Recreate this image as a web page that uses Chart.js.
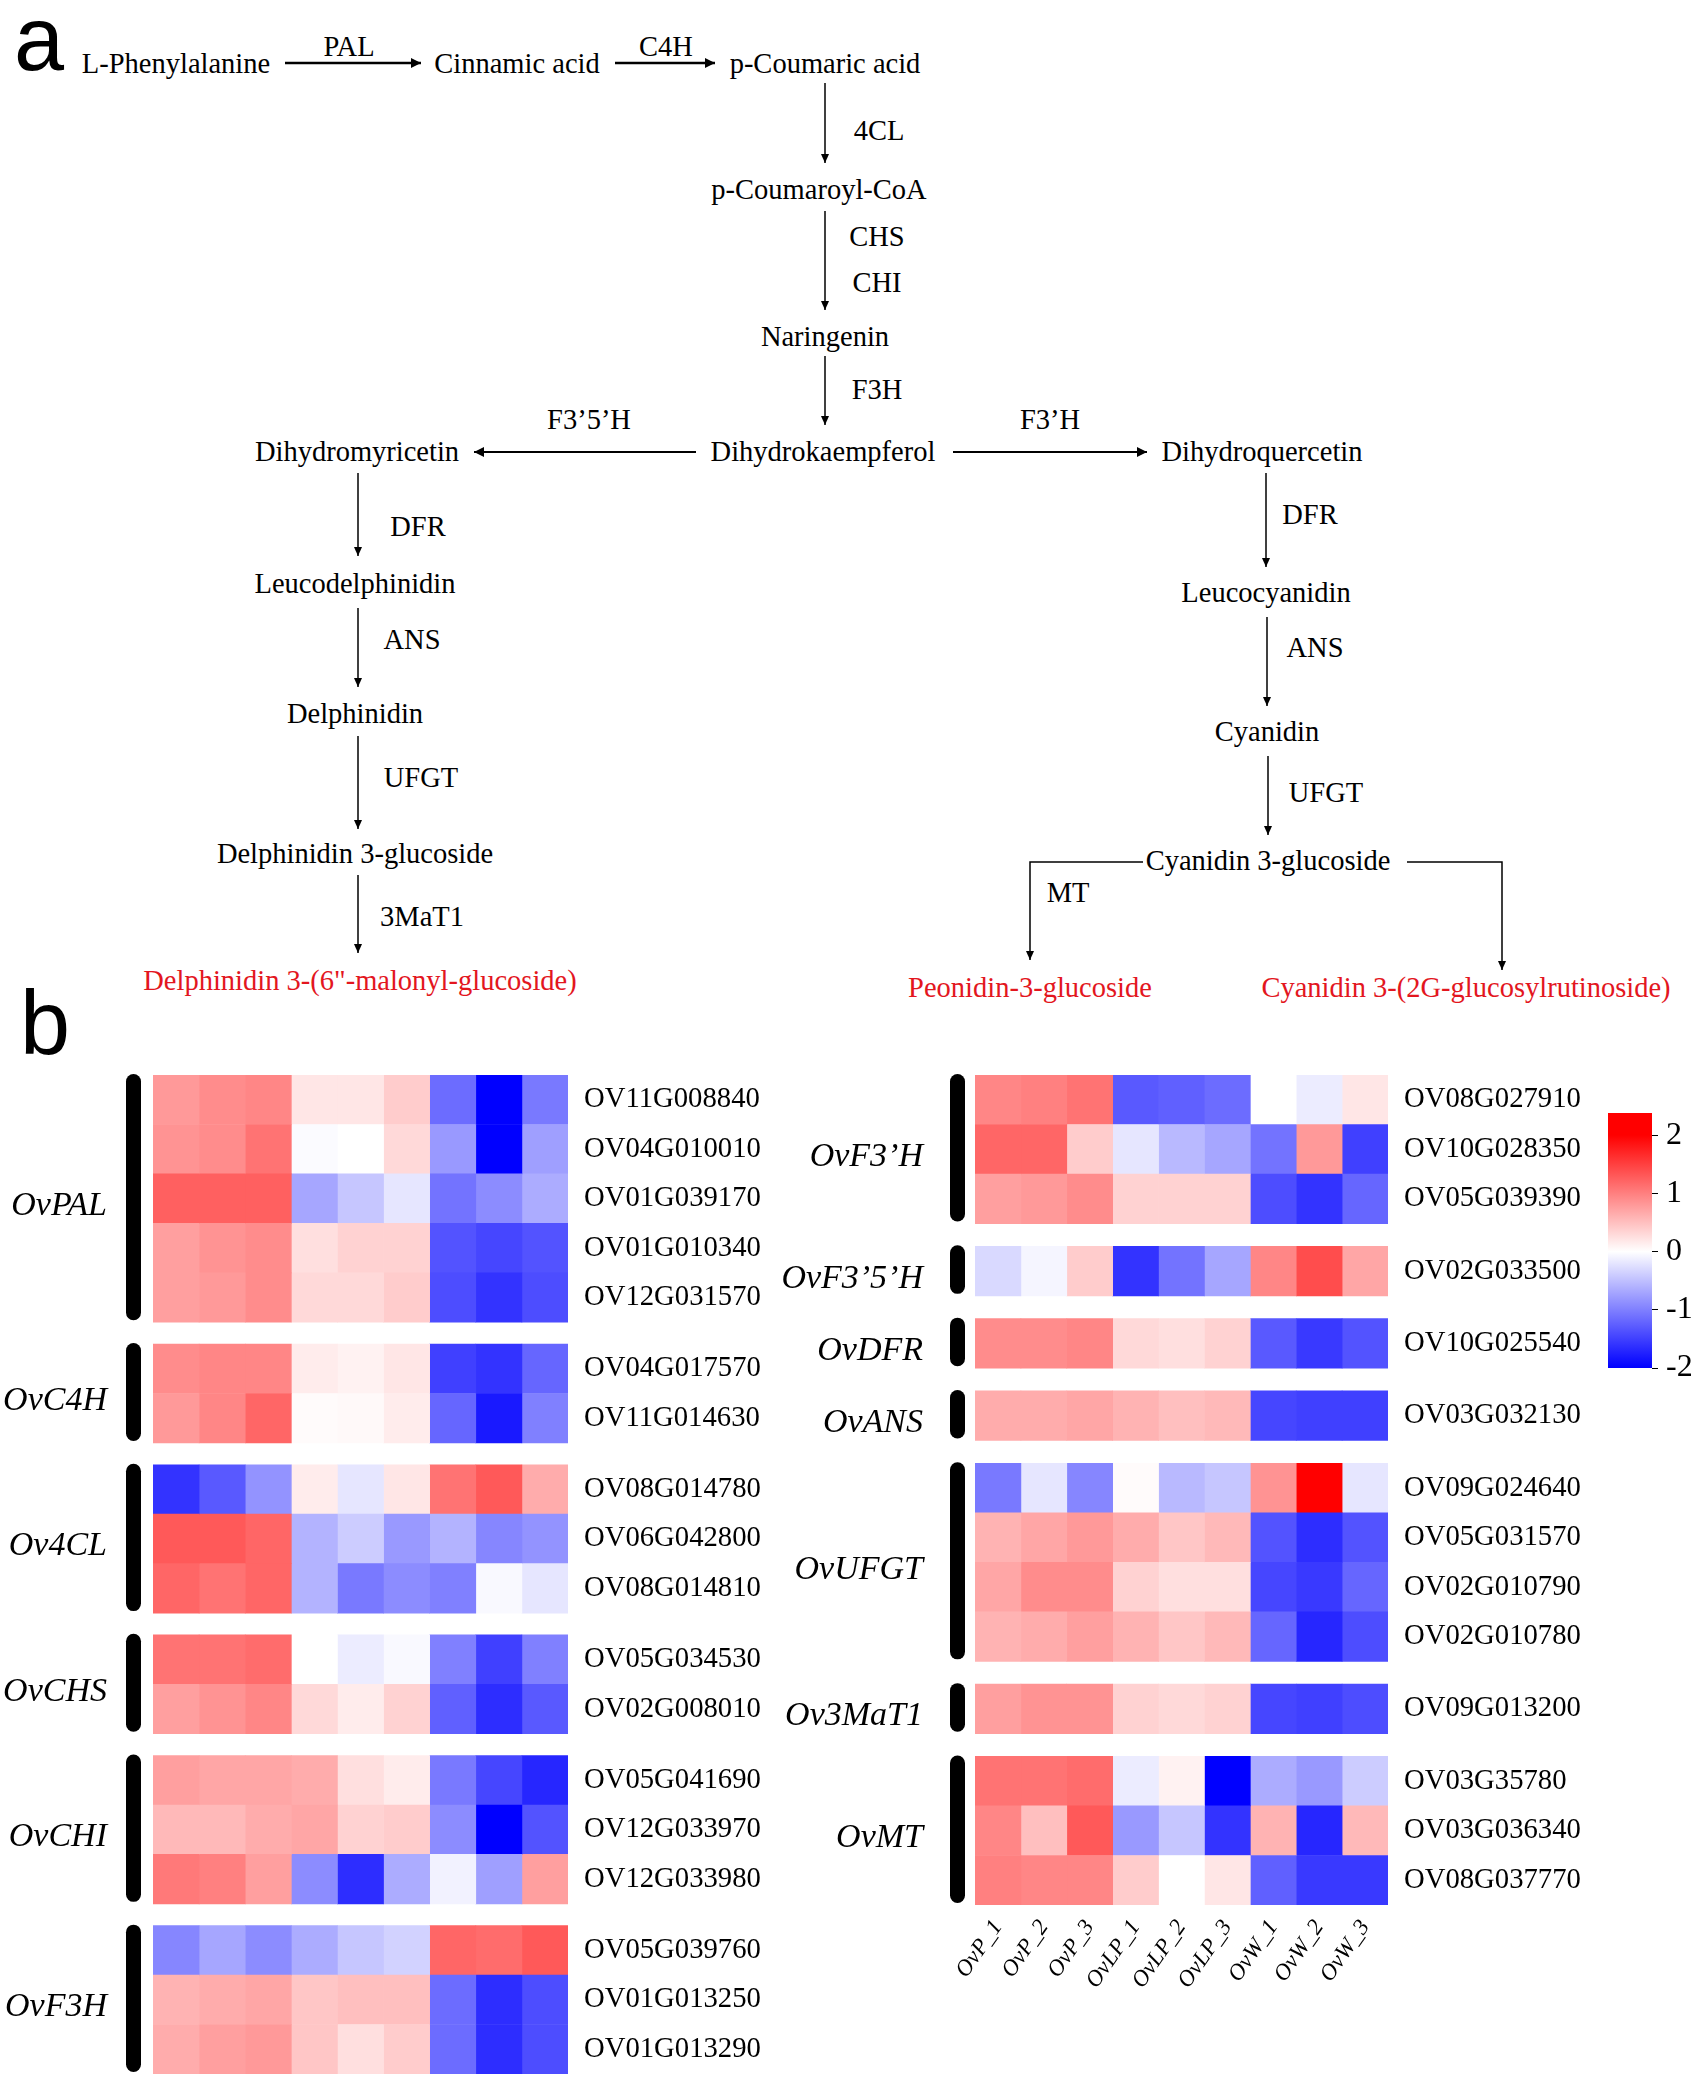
<!DOCTYPE html>
<html>
<head>
<meta charset="utf-8">
<script src="https://cdn.jsdelivr.net/npm/chart.js@4.4.1/dist/chart.umd.min.js"></script>
<style>
  body { margin: 0; background: #fff; }
  #page { position: relative; width: 1704px; height: 2096px; overflow: hidden;
          font-family: 'Liberation Serif', 'Times New Roman', serif; color: #000; }
  .t { position: absolute; transform: translate(-50%, -50%); white-space: nowrap;
       font-size: 28.5px; line-height: 1; }
  .red { color: #e3161e; }
  .tag { position: absolute; font-family: 'Liberation Sans', Arial, sans-serif;
         font-size: 90px; line-height: 1; }
  canvas { position: absolute; }
</style>
</head>
<body>
<div id="page">
  <div class="tag" style="left:14px;top:-6px">a</div>
  <div class="tag" style="left:20px;top:978px">b</div>

  <svg width="1704" height="1060" style="position:absolute;left:0;top:0">
    <defs>
      <marker id="ah" markerWidth="9" markerHeight="8" refX="9" refY="4" orient="auto" markerUnits="userSpaceOnUse">
        <path d="M0,0 L9,4 L0,8 z" fill="#000"/>
      </marker>
      <marker id="ahb" markerWidth="10" markerHeight="10" refX="10" refY="5" orient="auto" markerUnits="userSpaceOnUse">
        <path d="M0,0 L10,5 L0,10 z" fill="#000"/>
      </marker>
    </defs>
    <g stroke="#000" fill="none">
      <line x1="285" y1="63" x2="421" y2="63" stroke-width="2.5" marker-end="url(#ahb)"/>
      <line x1="615" y1="63" x2="715" y2="63" stroke-width="2.5" marker-end="url(#ahb)"/>
      <line x1="825" y1="83" x2="825" y2="163" stroke-width="1.5" marker-end="url(#ah)"/>
      <line x1="825" y1="211" x2="825" y2="310" stroke-width="1.5" marker-end="url(#ah)"/>
      <line x1="825" y1="356" x2="825" y2="425" stroke-width="1.5" marker-end="url(#ah)"/>
      <line x1="696" y1="452" x2="474" y2="452" stroke-width="2" marker-end="url(#ahb)"/>
      <line x1="953" y1="452" x2="1147" y2="452" stroke-width="2" marker-end="url(#ahb)"/>
      <line x1="358" y1="473" x2="358" y2="556" stroke-width="1.5" marker-end="url(#ah)"/>
      <line x1="358" y1="608" x2="358" y2="687" stroke-width="1.5" marker-end="url(#ah)"/>
      <line x1="358" y1="736" x2="358" y2="829" stroke-width="1.5" marker-end="url(#ah)"/>
      <line x1="358" y1="875" x2="358" y2="953" stroke-width="1.5" marker-end="url(#ah)"/>
      <line x1="1266" y1="473" x2="1266" y2="567" stroke-width="1.5" marker-end="url(#ah)"/>
      <line x1="1267" y1="617" x2="1267" y2="706" stroke-width="1.5" marker-end="url(#ah)"/>
      <line x1="1268" y1="756" x2="1268" y2="835" stroke-width="1.5" marker-end="url(#ah)"/>
      <polyline points="1143,862 1030,862 1030,960" stroke-width="1.5" marker-end="url(#ah)"/>
      <polyline points="1407,862 1502,862 1502,970" stroke-width="1.5" marker-end="url(#ah)"/>
    </g>
  </svg>

  <div class="t" style="left:176px;top:64px">L-Phenylalanine</div>
  <div class="t" style="left:517px;top:64px">Cinnamic acid</div>
  <div class="t" style="left:825px;top:64px">p-Coumaric acid</div>
  <div class="t" style="left:819px;top:190px">p-Coumaroyl-CoA</div>
  <div class="t" style="left:825px;top:337px">Naringenin</div>
  <div class="t" style="left:823px;top:452px">Dihydrokaempferol</div>
  <div class="t" style="left:357px;top:452px">Dihydromyricetin</div>
  <div class="t" style="left:1262px;top:452px">Dihydroquercetin</div>
  <div class="t" style="left:355px;top:584px">Leucodelphinidin</div>
  <div class="t" style="left:355px;top:714px">Delphinidin</div>
  <div class="t" style="left:355px;top:854px">Delphinidin 3-glucoside</div>
  <div class="t red" style="left:360px;top:981px">Delphinidin 3-(6"-malonyl-glucoside)</div>
  <div class="t" style="left:1266px;top:593px">Leucocyanidin</div>
  <div class="t" style="left:1267px;top:732px">Cyanidin</div>
  <div class="t" style="left:1268px;top:861px">Cyanidin 3-glucoside</div>
  <div class="t red" style="left:1030px;top:988px">Peonidin-3-glucoside</div>
  <div class="t red" style="left:1466px;top:988px">Cyanidin 3-(2G-glucosylrutinoside)</div>

  <div class="t" style="left:349px;top:47px">PAL</div>
  <div class="t" style="left:666px;top:47px">C4H</div>
  <div class="t" style="left:879px;top:131px">4CL</div>
  <div class="t" style="left:877px;top:237px">CHS</div>
  <div class="t" style="left:877px;top:283px">CHI</div>
  <div class="t" style="left:877px;top:390px">F3H</div>
  <div class="t" style="left:589px;top:420px">F3’5’H</div>
  <div class="t" style="left:1050px;top:420px">F3’H</div>
  <div class="t" style="left:418px;top:527px">DFR</div>
  <div class="t" style="left:412px;top:640px">ANS</div>
  <div class="t" style="left:421px;top:778px">UFGT</div>
  <div class="t" style="left:422px;top:917px">3MaT1</div>
  <div class="t" style="left:1310px;top:515px">DFR</div>
  <div class="t" style="left:1315px;top:648px">ANS</div>
  <div class="t" style="left:1326px;top:793px">UFGT</div>
  <div class="t" style="left:1068px;top:893px">MT</div>

  <canvas id="leftMap" width="780" height="1130" style="left:0;top:1000px"></canvas>
  <canvas id="rightMap" width="860" height="1040" style="left:740px;top:1000px"></canvas>
  <canvas id="scaleBar" width="130" height="340" style="left:1580px;top:1070px"></canvas>
</div>

<script>
// samples (columns)
const samples = ['OvP_1', 'OvP_2', 'OvP_3', 'OvLP_1', 'OvLP_2', 'OvLP_3', 'OvW_1', 'OvW_2', 'OvW_3'];

// left panel genes / z-scores
const genesPAL = ['OV11G008840', 'OV04G010010', 'OV01G039170', 'OV01G010340', 'OV12G031570'];
const valsPAL = [
  [0.8, 0.9, 0.95, 0.2, 0.2, 0.4, -1.15, -2.0, -1.05],
  [0.85, 0.9, 1.1, -0.03, 0.0, 0.3, -0.8, -2.0, -0.75],
  [1.25, 1.25, 1.25, -0.7, -0.45, -0.2, -1.1, -0.9, -0.65],
  [0.75, 0.85, 0.9, 0.25, 0.35, 0.35, -1.35, -1.45, -1.35],
  [0.75, 0.8, 0.9, 0.3, 0.3, 0.4, -1.4, -1.6, -1.4]
];
const genesC4H = ['OV04G017570', 'OV11G014630'];
const valsC4H = [
  [0.9, 0.95, 0.95, 0.15, 0.1, 0.2, -1.5, -1.6, -1.2],
  [0.8, 0.95, 1.2, 0.03, 0.05, 0.15, -1.2, -1.8, -1.0]
];
const genes4CL = ['OV08G014780', 'OV06G042800', 'OV08G014810'];
const vals4CL = [
  [-1.6, -1.3, -0.85, 0.15, -0.2, 0.2, 1.1, 1.3, 0.65],
  [1.3, 1.3, 1.2, -0.6, -0.4, -0.8, -0.6, -0.95, -0.85],
  [1.2, 1.1, 1.2, -0.6, -1.05, -0.9, -1.0, -0.05, -0.2]
];
const genesCHS = ['OV05G034530', 'OV02G008010'];
const valsCHS = [
  [1.1, 1.1, 1.15, 0.0, -0.15, -0.05, -1.0, -1.5, -1.0],
  [0.75, 0.85, 0.95, 0.3, 0.15, 0.35, -1.25, -1.65, -1.3]
];
const genesCHI = ['OV05G041690', 'OV12G033970', 'OV12G033980'];
const valsCHI = [
  [0.75, 0.7, 0.7, 0.65, 0.25, 0.15, -1.05, -1.45, -1.7],
  [0.55, 0.55, 0.65, 0.7, 0.35, 0.4, -0.9, -2.0, -1.35],
  [1.05, 1.0, 0.75, -0.9, -1.65, -0.65, -0.1, -0.75, 0.75]
];
const genesF3H = ['OV05G039760', 'OV01G013250', 'OV01G013290'];
const valsF3H = [
  [-0.95, -0.7, -0.9, -0.65, -0.45, -0.35, 1.2, 1.15, 1.3],
  [0.6, 0.65, 0.7, 0.45, 0.5, 0.5, -1.15, -1.65, -1.4],
  [0.65, 0.75, 0.8, 0.45, 0.25, 0.4, -1.15, -1.65, -1.4]
];

// right panel genes / z-scores
const genesF3pH = ['OV08G027910', 'OV10G028350', 'OV05G039390'];
const valsF3pH = [
  [0.95, 1.0, 1.1, -1.3, -1.25, -1.15, 0.0, -0.15, 0.2],
  [1.2, 1.2, 0.4, -0.2, -0.55, -0.7, -1.1, 0.8, -1.5],
  [0.75, 0.8, 0.9, 0.35, 0.35, 0.35, -1.4, -1.6, -1.2]
];
const genesF35H = ['OV02G033500'];
const valsF35H = [[-0.3, -0.08, 0.4, -1.6, -1.1, -0.7, 0.95, 1.4, 0.7]];
const genesDFR = ['OV10G025540'];
const valsDFR = [[0.9, 0.9, 0.95, 0.3, 0.25, 0.35, -1.3, -1.55, -1.35]];
const genesANS = ['OV03G032130'];
const valsANS = [[0.65, 0.65, 0.7, 0.6, 0.5, 0.55, -1.45, -1.5, -1.5]];
const genesUFGT = ['OV09G024640', 'OV05G031570', 'OV02G010790', 'OV02G010780'];
const valsUFGT = [
  [-1.05, -0.2, -0.95, 0.03, -0.55, -0.45, 0.85, 2.0, -0.2],
  [0.6, 0.7, 0.8, 0.65, 0.45, 0.55, -1.35, -1.65, -1.35],
  [0.7, 0.9, 0.9, 0.35, 0.25, 0.25, -1.45, -1.55, -1.2],
  [0.6, 0.65, 0.75, 0.6, 0.45, 0.55, -1.2, -1.7, -1.4]
];
const genesMaT = ['OV09G013200'];
const valsMaT = [[0.75, 0.85, 0.85, 0.35, 0.3, 0.35, -1.45, -1.5, -1.4]];
const genesMT = ['OV03G35780', 'OV03G036340', 'OV08G037770'];
const valsMT = [
  [1.1, 1.1, 1.15, -0.15, 0.1, -2.0, -0.65, -0.8, -0.4],
  [0.95, 0.5, 1.3, -0.8, -0.45, -1.6, 0.6, -1.7, 0.55],
  [1.0, 0.95, 0.95, 0.4, 0.0, 0.2, -1.25, -1.55, -1.55]
];

// colour key ticks
const keyTicks = [2, 1, 0, -1, -2];

const leftGroups = [
  { name: 'OvPAL', genes: genesPAL, values: valsPAL },
  { name: 'OvC4H', genes: genesC4H, values: valsC4H },
  { name: 'Ov4CL', genes: genes4CL, values: vals4CL },
  { name: 'OvCHS', genes: genesCHS, values: valsCHS },
  { name: 'OvCHI', genes: genesCHI, values: valsCHI },
  { name: 'OvF3H', genes: genesF3H, values: valsF3H }
];
const rightGroups = [
  { name: 'OvF3’H', genes: genesF3pH, values: valsF3pH },
  { name: 'OvF3’5’H', genes: genesF35H, values: valsF35H },
  { name: 'OvDFR', genes: genesDFR, values: valsDFR },
  { name: 'OvANS', genes: genesANS, values: valsANS },
  { name: 'OvUFGT', genes: genesUFGT, values: valsUFGT },
  { name: 'Ov3MaT1', genes: genesMaT, values: valsMaT },
  { name: 'OvMT', genes: genesMT, values: valsMT }
];

const SERIF = "'Liberation Serif', 'Times New Roman', serif";

function heat(v) {
  const t = Math.min(Math.abs(v) / 2, 1);
  const c = Math.round(255 * (1 - t));
  return v >= 0 ? `rgb(255,${c},${c})` : `rgb(${c},${c},255)`;
}

// nudge layout padding until the plot area sits on the wanted page box
function fitArea(chart, canvas, target) {
  const left = parseFloat(canvas.style.left), top = parseFloat(canvas.style.top);
  for (let k = 0; k < 40; k++) {
    const a = chart.chartArea;
    const p = chart.config.options.layout.padding;
    const dt = target.top - (top + a.top);
    const db = (top + a.bottom) - target.bottom;
    const dl = target.left - (left + a.left);
    const dr = (left + a.right) - target.right;
    if (Math.abs(dt) + Math.abs(db) + Math.abs(dl) + Math.abs(dr) < 0.5) break;
    p.top = Math.max(0, p.top + dt);
    p.bottom = Math.max(0, p.bottom + db);
    p.left = Math.max(0, p.left + dl);
    p.right = Math.max(0, p.right + dr);
    chart.update('none');
  }
}

// black bars + italic family names to the left of each block
const groupMarks = {
  id: 'groupMarks',
  afterDraw(chart, args, opts) {
    const { ctx, chartArea, scales: { y } } = chart;
    ctx.save();
    ctx.font = `italic 34px ${SERIF}`;
    ctx.textAlign = 'right';
    ctx.textBaseline = 'middle';
    ctx.fillStyle = '#000';
    opts.spans.forEach(s => {
      const top = y.getPixelForValue(s.start) - 1;
      const bot = y.getPixelForValue(s.end) - 2;
      ctx.beginPath();
      ctx.roundRect(chartArea.left - opts.barGap - 15, top, 15, bot - top, 7.5);
      ctx.fill();
      ctx.fillText(s.name, chartArea.left - opts.labelGap, (top + bot) / 2 + 9);
    });
    ctx.restore();
  }
};

function makeHeatmap(id, groups, cfg) {
  const rows = [], spans = [];
  let pos = 0;
  groups.forEach((g, gi) => {
    if (gi > 0) pos += cfg.gap;
    const start = pos;
    g.genes.forEach((gene, k) => {
      rows.push({ gene, pos: pos + 0.5, vals: g.values[k] });
      pos += 1;
    });
    spans.push({ name: g.name, start, end: pos });
  });

  const datasets = samples.map((s, c) => ({
    label: s,
    grouped: false,
    data: rows.map(r => ({ y: r.pos, x: [c, c + 1] })),
    backgroundColor: rows.map(r => heat(r.vals[c])),
    borderWidth: 0,
    barPercentage: 1,
    categoryPercentage: 1
  }));

  const canvas = document.getElementById(id);
  const chart = new Chart(canvas, {
    type: 'bar',
    data: { datasets },
    plugins: [groupMarks],
    options: {
      indexAxis: 'y',
      responsive: false,
      animation: false,
      layout: { padding: { left: 0, top: 0, bottom: 0, right: 0 } },
      plugins: {
        legend: { display: false },
        tooltip: { enabled: false },
        groupMarks: { spans, barGap: cfg.barGap, labelGap: cfg.labelGap }
      },
      scales: {
        y: {
          type: 'linear',
          position: 'right',
          reverse: true,
          offset: false,
          bounds: 'data',
          min: 0,
          max: pos,
          grid: { display: false, drawTicks: false, offset: false },
          border: { display: false },
          afterBuildTicks: sc => { sc.ticks = rows.map(r => ({ value: r.pos })); },
          afterFit: sc => { sc.width = 212; },
          ticks: {
            autoSkip: false,
            padding: 16,
            color: '#000',
            font: { family: SERIF, size: 28.7 },
            callback: (v, i) => rows[i] ? rows[i].gene : ''
          }
        },
        x: {
          type: 'linear',
          display: cfg.showX,
          bounds: 'data',
          min: 0,
          max: samples.length,
          grid: { display: false, drawTicks: false },
          border: { display: false },
          afterBuildTicks: sc => { sc.ticks = samples.map((s, i) => ({ value: i + 0.5 })); },
          afterFit: sc => { if (cfg.showX) sc.height = 90; },
          ticks: {
            autoSkip: false,
            minRotation: 55,
            maxRotation: 55,
            padding: 10,
            color: '#000',
            font: { family: SERIF, size: 23, style: 'italic' },
            callback: (v, i) => samples[i]
          }
        }
      }
    }
  });
  fitArea(chart, canvas, cfg.area);
}

makeHeatmap('leftMap', leftGroups, {
  gap: 0.44, barGap: 12, labelGap: 46, showX: false,
  area: { left: 153, top: 1075, right: 568, bottom: 2074 }
});
makeHeatmap('rightMap', rightGroups, {
  gap: 0.46, barGap: 10, labelGap: 52, showX: true,
  area: { left: 975, top: 1075, right: 1390, bottom: 1905 }
});

// colour key
const keyCanvas = document.getElementById('scaleBar');
const keyChart = new Chart(keyCanvas, {
  type: 'bar',
  data: {
    labels: ['key'],
    datasets: [{
      data: [[keyTicks[keyTicks.length - 1], 2.38]],
      borderWidth: 0,
      barPercentage: 1,
      categoryPercentage: 1,
      backgroundColor: ctx => {
        const { chart } = ctx;
        const { chartArea, scales } = chart;
        if (!chartArea) return '#f00';
        const g = chart.ctx.createLinearGradient(0, scales.y.getPixelForValue(-2), 0, scales.y.getPixelForValue(2));
        g.addColorStop(0, heat(-2));
        g.addColorStop(0.5, heat(0));
        g.addColorStop(1, heat(2));
        return g;
      }
    }]
  },
  options: {
    responsive: false,
    animation: false,
    layout: { padding: { left: 0, top: 0, bottom: 0, right: 0 } },
    plugins: { legend: { display: false }, tooltip: { enabled: false } },
    scales: {
      x: { display: false },
      y: {
        position: 'right',
        min: -2,
        max: 2.38,
        grid: { drawOnChartArea: false, drawTicks: true, tickLength: 6, color: '#000' },
        border: { display: false },
        afterBuildTicks: sc => { sc.ticks = keyTicks.map(v => ({ value: v })); },
        afterFit: sc => { sc.width = 58; },
        ticks: {
          padding: 8,
          color: '#000',
          font: { family: SERIF, size: 32 },
          callback: v => String(v)
        }
      }
    }
  }
});
fitArea(keyChart, keyCanvas, { left: 1608, top: 1113, right: 1654, bottom: 1368 });
</script>
</body>
</html>
